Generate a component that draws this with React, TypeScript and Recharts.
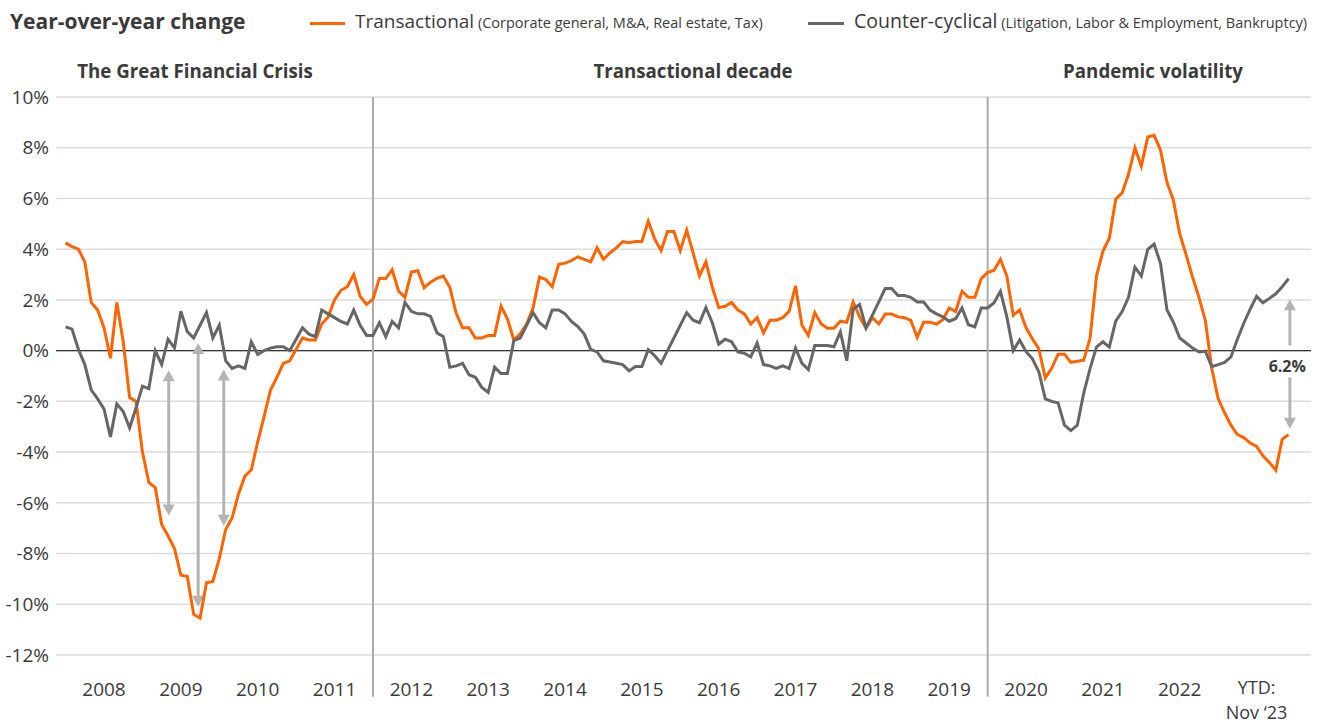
import React from "react";
import {
  LineChart,
  Line,
  XAxis,
  YAxis,
  CartesianGrid,
  ReferenceLine,
  ReferenceDot,
} from "recharts";

// monthly YoY change, Jan 2008 .. end of 2023 (one row per year)
const transactional = [
  4.25, 4.1, 4.0, 3.5, 1.9, 1.6, 0.9, -0.3, 1.9, 0.35, -1.85, -2.0,
  -4.0, -5.2, -5.4, -6.85, -7.3, -7.8, -8.85, -8.9, -10.4, -10.55, -9.15, -9.1,
  -8.2, -7.05, -6.6, -5.65, -4.95, -4.7, -3.6, -2.6, -1.55, -1.05, -0.5, -0.4,
  0.05, 0.5, 0.42, 0.42, 1.05, 1.33, 2.0, 2.38, 2.52, 3.0, 2.14, 1.82,
  2.03, 2.84, 2.84, 3.19, 2.34, 2.1, 3.1, 3.15, 2.48, 2.7, 2.85, 2.94,
  2.5, 1.47, 0.9, 0.9, 0.5, 0.5, 0.6, 0.6, 1.75, 1.25, 0.42, 0.66,
  1.05, 1.68, 2.9, 2.8, 2.52, 3.4, 3.45, 3.55, 3.7, 3.6, 3.5, 4.05,
  3.6, 3.85, 4.05, 4.3, 4.25, 4.3, 4.3, 5.1, 4.4, 3.95, 4.7, 4.7,
  3.95, 4.75, 3.85, 2.95, 3.5, 2.5, 1.7, 1.75, 1.9, 1.6, 1.45, 1.05,
  1.3, 0.7, 1.2, 1.2, 1.3, 1.55, 2.55, 1.0, 0.6, 1.5, 1.05, 0.88,
  0.88, 1.16, 1.12, 1.92, 1.33, 0.88, 1.3, 1.05, 1.44, 1.44, 1.33, 1.3,
  1.19, 0.52, 1.12, 1.12, 1.05, 1.22, 1.68, 1.54, 2.34, 2.1, 2.1, 2.84,
  3.08, 3.17, 3.6, 2.94, 1.4, 1.6, 0.9, 0.46, 0.07, -1.08, -0.7, -0.14,
  -0.14, -0.46, -0.42, -0.38, 0.49, 2.94, 3.92, 4.43, 5.97, 6.22, 6.95, 8.0,
  7.27, 8.42, 8.49, 7.9, 6.64, 5.94, 4.6, 3.78, 2.9, 2.1, 1.19, -0.7,
  -1.89, -2.45, -2.94, -3.31, -3.43, -3.64, -3.78, -4.15, -4.41, -4.71, -3.5, -3.31,
];

const counterCyclical = [
  0.94, 0.85, 0.05, -0.55, -1.55, -1.9, -2.3, -3.4, -2.1, -2.4, -3.05, -2.25,
  -1.4, -1.5, 0.0, -0.55, 0.45, 0.1, 1.55, 0.75, 0.5, 1.0, 1.5, 0.5,
  1.0, -0.4, -0.7, -0.6, -0.7, 0.35, -0.15, 0.0, 0.1, 0.15, 0.15, 0.0,
  0.45, 0.9, 0.65, 0.55, 1.6, 1.45, 1.3, 1.15, 1.05, 1.6, 1.0, 0.6,
  0.6, 1.1, 0.55, 1.15, 0.9, 1.9, 1.55, 1.45, 1.45, 1.35, 0.7, 0.55,
  -0.65, -0.6, -0.5, -0.95, -1.05, -1.45, -1.65, -0.65, -0.9, -0.9, 0.4, 0.5,
  1.0, 1.5, 1.1, 0.9, 1.6, 1.6, 1.45, 1.15, 0.95, 0.65, 0.05, -0.05,
  -0.4, -0.45, -0.5, -0.55, -0.8, -0.63, -0.63, 0.04, -0.2, -0.5, 0.0, 0.5,
  1.0, 1.5, 1.2, 1.1, 1.7, 1.1, 0.25, 0.45, 0.35, -0.05, -0.1, -0.25,
  0.3, -0.55, -0.6, -0.7, -0.6, -0.7, 0.1, -0.5, -0.75, 0.2, 0.2, 0.2,
  0.15, 0.74, -0.4, 1.64, 1.82, 0.9, 1.4, 1.92, 2.45, 2.45, 2.17, 2.17,
  2.1, 1.92, 1.92, 1.6, 1.45, 1.33, 1.16, 1.26, 1.68, 1.02, 0.94, 1.68,
  1.68, 1.89, 2.34, 1.33, 0.0, 0.42, -0.04, -0.32, -0.84, -1.9, -2.0, -2.06,
  -2.94, -3.15, -2.94, -1.68, -0.7, 0.14, 0.35, 0.14, 1.16, 1.54, 2.1, 3.29,
  2.94, 3.99, 4.2, 3.43, 1.61, 1.12, 0.5, 0.3, 0.1, -0.05, -0.02, -0.63,
  -0.55, -0.46, -0.25, 0.45, 1.08, 1.64, 2.14, 1.89, 2.06, 2.24, 2.52, 2.84,
];

const yearLabels = [
  "2008", "2009", "2010", "2011", "2012", "2013", "2014", "2015",
  "2016", "2017", "2018", "2019", "2020", "2021", "2022", "YTD:",
];
const yearTicks = [6, 18, 30, 42, 54, 66, 78, 90, 102, 114, 126, 138, 150, 162, 174, 186];
const yTicks = [-12, -10, -8, -6, -4, -2, 0, 2, 4, 6, 8, 10];

// period dividers (month index) and their titles
const dividers = [48, 144];
const periods = [
  { title: "The Great Financial Crisis", center: 195 },
  { title: "Transactional decade", center: 693 },
  { title: "Pandemic volatility", center: 1153 },
];

// gap arrows during the GFC (month index, top %, bottom %)
const gapArrows = [
  { x: 16.1, top: -0.77, bottom: -6.5 },
  { x: 20.7, top: 0.3, bottom: -10.1 },
  { x: 24.7, top: -0.74, bottom: -6.9 },
];
// current gap arrow
const gapNow = { x: 191.2, top: 2.03, upperEnd: 0.2, lowerStart: -1.05, bottom: -3.08, label: "6.2%", labelY: -0.63 };

const ORANGE = "#ff6400";
const GREY = "#666666";
const ARROW = "#b4b4b4";
const TEXT = "#3a3a3a";

const data = transactional.map((t, i) => ({
  i,
  transactional: t,
  counter: counterCyclical[i],
}));

const arrowShape = (headStart: boolean, headEnd: boolean) => (p: any) => {
  const { x1, y1, x2, y2 } = p;
  const hl = 11;
  const hw = 6;
  const d = y2 > y1 ? 1 : -1;
  const sy = headStart ? y1 + d * (hl - 2) : y1;
  const ey = headEnd ? y2 - d * (hl - 2) : y2;
  return (
    <g>
      <line x1={x1} y1={sy} x2={x2} y2={ey} stroke={ARROW} strokeWidth={3} />
      {headStart && (
        <polygon
          points={`${x1},${y1} ${x1 - hw},${y1 + d * hl} ${x1 + hw},${y1 + d * hl}`}
          fill={ARROW}
        />
      )}
      {headEnd && (
        <polygon
          points={`${x2},${y2} ${x2 - hw},${y2 - d * hl} ${x2 + hw},${y2 - d * hl}`}
          fill={ARROW}
        />
      )}
    </g>
  );
};

const YearTick = ({ x, y, payload }: any) => {
  const k = yearTicks.indexOf(payload.value);
  const label = yearLabels[k] ?? "";
  if (label === "YTD:") {
    return (
      <text x={x} y={y} textAnchor="middle" fill={TEXT} fontSize={18}>
        <tspan x={x} dy={39}>{label}</tspan>
        <tspan x={x} dy={25}>Nov ‘23</tspan>
      </text>
    );
  }
  return (
    <text x={x} y={y} textAnchor="middle" fill={TEXT} fontSize={19}>
      <tspan x={x} dy={41}>{label}</tspan>
    </text>
  );
};

export default function App() {
  return (
    <div
      style={{
        position: "absolute",
        left: 0,
        top: 0,
        width: 1320,
        height: 727,
        background: "#fff",
        fontFamily: "'Open Sans', sans-serif",
        color: TEXT,
      }}
    >
      <div style={{ position: "absolute", left: 10, top: 7, fontSize: 21, fontWeight: 700, lineHeight: "28px" }}>
        Year-over-year change
      </div>
      <div style={{ position: "absolute", left: 310, top: 8, lineHeight: "26px", whiteSpace: "nowrap" }}>
        <span style={{ display: "inline-block", width: 35, height: 3, background: ORANGE, verticalAlign: "middle", marginRight: 10 }} />
        <span style={{ fontSize: 19 }}>Transactional</span>
        <span style={{ fontSize: 14.5 }}> (Corporate general, M&amp;A, Real estate, Tax)</span>
      </div>
      <div style={{ position: "absolute", left: 808, top: 8, lineHeight: "26px", whiteSpace: "nowrap" }}>
        <span style={{ display: "inline-block", width: 36, height: 3, background: GREY, verticalAlign: "middle", marginRight: 10 }} />
        <span style={{ fontSize: 19.5 }}>Counter-cyclical</span>
        <span style={{ fontSize: 14.5 }}> (Litigation, Labor &amp; Employment, Bankruptcy)</span>
      </div>
      {periods.map((p) => (
        <div
          key={p.title}
          style={{
            position: "absolute",
            left: p.center,
            top: 58,
            transform: "translateX(-50%)",
            fontSize: 18.7,
            fontWeight: 700,
            lineHeight: "26px",
            whiteSpace: "nowrap",
          }}
        >
          {p.title}
        </div>
      ))}

      <div style={{ position: "absolute", left: 0, top: 0 }}>
        <LineChart
          width={1320}
          height={727}
          data={data}
          margin={{ top: 97, right: 9, bottom: 22, left: 0 }}
        >
          <CartesianGrid vertical={false} stroke="#dcdcdc" strokeWidth={1.5} />
          <XAxis
            dataKey="i"
            type="number"
            domain={[-1.5, 194.5]}
            ticks={yearTicks}
            interval={0}
            axisLine={false}
            tickLine={false}
            tickSize={0}
            tickMargin={0}
            height={50}
            tick={<YearTick />}
          />
          <YAxis
            domain={[-12, 10]}
            ticks={yTicks}
            interval={0}
            width={56}
            axisLine={false}
            tickLine={false}
            tickSize={0}
            tickMargin={7}
            tickFormatter={(v: number) => `${v}%`}
            tick={{ fill: TEXT, fontSize: 19 }}
          />
          <ReferenceLine y={0} stroke="#333" strokeWidth={1.2} />
          {dividers.map((d) => (
            <ReferenceLine
              key={d}
              segment={[{ x: d, y: 10 }, { x: d, y: -13.65 }]}
              stroke="#ababab"
              strokeWidth={2}
              ifOverflow="visible"
            />
          ))}
          {gapArrows.map((a) => (
            <ReferenceLine
              key={a.x}
              segment={[{ x: a.x, y: a.top }, { x: a.x, y: a.bottom }]}
              shape={arrowShape(true, true)}
            />
          ))}
          <ReferenceLine
            segment={[{ x: gapNow.x, y: gapNow.top }, { x: gapNow.x, y: gapNow.upperEnd }]}
            shape={arrowShape(true, false)}
          />
          <ReferenceLine
            segment={[{ x: gapNow.x, y: gapNow.lowerStart }, { x: gapNow.x, y: gapNow.bottom }]}
            shape={arrowShape(false, true)}
          />
          <Line
            type="linear"
            dataKey="transactional"
            stroke={ORANGE}
            strokeWidth={3}
            dot={false}
            isAnimationActive={false}
          />
          <Line
            type="linear"
            dataKey="counter"
            stroke={GREY}
            strokeWidth={3}
            dot={false}
            isAnimationActive={false}
          />
          <ReferenceDot
            x={gapNow.x - 0.4}
            y={gapNow.labelY}
            r={0}
            fill="none"
            stroke="none"
            label={{ value: gapNow.label, position: "center", fill: TEXT, fontSize: 16, fontWeight: 700 }}
          />
        </LineChart>
      </div>
    </div>
  );
}
